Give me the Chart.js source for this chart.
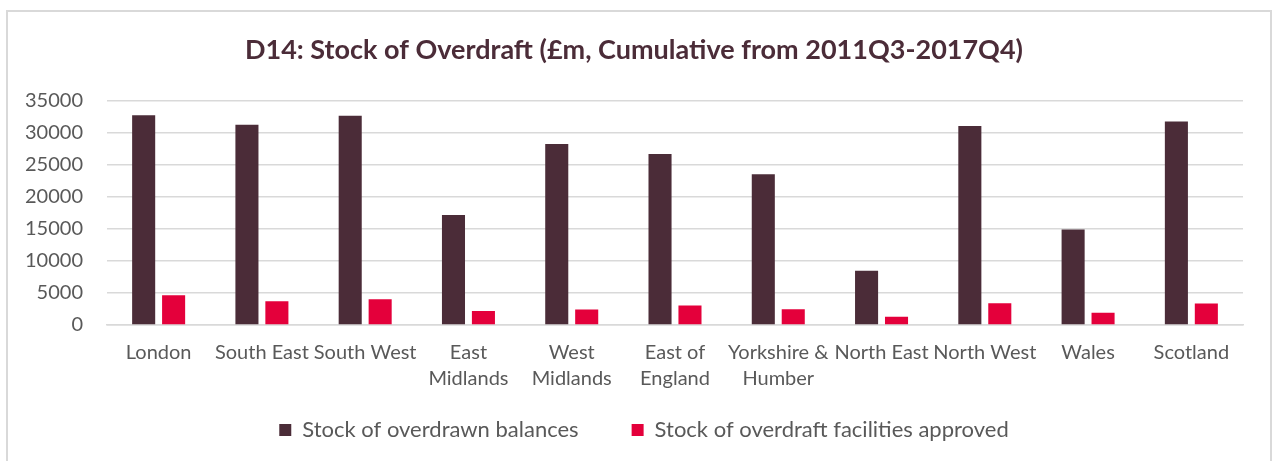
<!DOCTYPE html>
<html>
<head>
<meta charset="utf-8">
<script src="https://cdn.jsdelivr.net/npm/chart.js@4/dist/chart.umd.min.js"></script>
<style>
  html, body { margin: 0; padding: 0; background: #fff; }
  #wrap { position: relative; width: 1273px; height: 461px; }
  #frame { position: absolute; left: 6px; top: 10px; width: 1266px; height: 460px; border: 2px solid #d9d9d9; box-sizing: border-box; }
  canvas { position: absolute; left: 0; top: 0; }
</style>
</head>
<body>
<div id="wrap">
  <div id="frame"></div>
  <canvas id="c" width="1273" height="461"></canvas>
</div>
<script>
const title = 'D14: Stock of Overdraft (£m, Cumulative from 2011Q3-2017Q4)';
const categories = ['London', 'South East', 'South West', ['East', 'Midlands'], ['West', 'Midlands'],
  ['East of', 'England'], ['Yorkshire &', 'Humber'], 'North East', 'North West', 'Wales', 'Scotland'];
const seriesNames = ['Stock of overdrawn balances', 'Stock of overdraft facilities approved'];
const overdrawnBalances = [32700, 31200, 32600, 17150, 28200, 26650, 23500, 8450, 31000, 14900, 31700];
const facilitiesApproved = [4650, 3700, 4000, 2200, 2400, 3050, 2450, 1300, 3400, 1900, 3350];
const yTicks = [0, 5000, 10000, 15000, 20000, 25000, 30000, 35000];

const FONT = 'Lato, "Open Sans", sans-serif';
const LEGEND_CENTER_Y = 430;

// Move the legend box so its row sits where the reference has it
const legendPlacer = {
  id: 'legendPlacer',
  afterLayout(chart) {
    const lg = chart.legend;
    if (!lg) return;
    const pad = lg.options.labels.padding;
    const fs = lg.options.labels.font.size;
    lg.top = LEGEND_CENTER_Y - pad - fs / 2;
    lg.bottom = chart.height;
    lg.height = lg.bottom - lg.top;
    lg.left += 10; lg.right += 10;
  }
};

new Chart(document.getElementById('c'), {
  type: 'bar',
  data: {
    labels: categories,
    datasets: [
      { label: seriesNames[0], data: overdrawnBalances, backgroundColor: '#4b2c38',
        categoryPercentage: 0.58, barPercentage: 0.77 },
      { label: seriesNames[1], data: facilitiesApproved, backgroundColor: '#e4003b',
        categoryPercentage: 0.58, barPercentage: 0.77 }
    ]
  },
  options: {
    responsive: false,
    animation: false,
    devicePixelRatio: 1,
    layout: { padding: { left: 25, right: 30, top: 0, bottom: 14 } },
    plugins: {
      title: {
        display: true, text: title, color: '#4b2c38',
        font: { family: FONT, size: 27, weight: 'bold' },
        padding: { top: 34, bottom: 34 }
      },
      legend: {
        position: 'bottom',
        maxHeight: 40,
        labels: {
          color: '#595959', font: { family: FONT, size: 22 },
          boxWidth: 12, boxHeight: 12, padding: 53
        }
      },
      tooltip: { enabled: false }
    },
    scales: {
      y: {
        min: 0, max: 35000,
        afterBuildTicks: (s) => { s.ticks = yTicks.map(v => ({ value: v })); },
        afterFit: (s) => { s.width = 82; },
        ticks: { color: '#595959', font: { family: FONT, size: 20 }, padding: 24,
          callback: (v) => String(v) },
        grid: { color: '#d9d9d9', lineWidth: 1.5, drawTicks: false },
        border: { display: false }
      },
      x: {
        ticks: { color: '#595959', font: { family: FONT, size: 20, lineHeight: 1.3 },
          maxRotation: 0, autoSkip: false, padding: 15 },
        grid: { display: false, drawTicks: false },
        border: { display: true, color: '#d9d9d9', width: 1.5 }
      }
    }
  },
  plugins: [legendPlacer]
});
</script>
</body>
</html>
